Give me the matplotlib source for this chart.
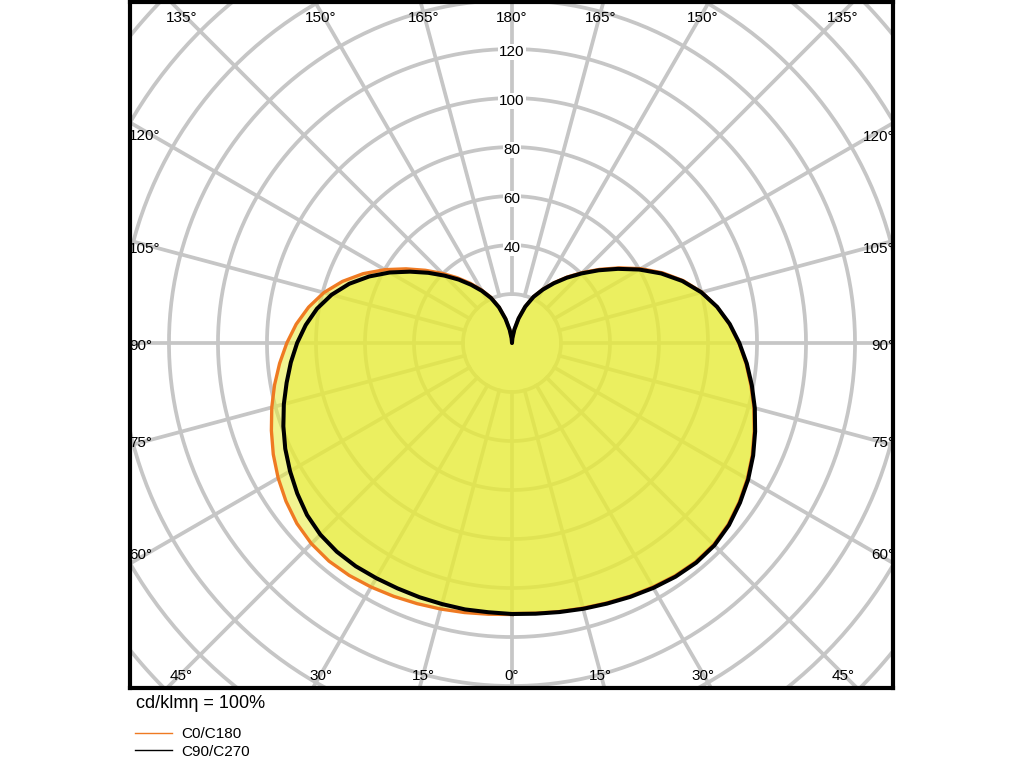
import numpy as np
import matplotlib
matplotlib.use('Agg')
import matplotlib.pyplot as plt
from matplotlib.lines import Line2D

plt.rcParams['font.family'] = ['Liberation Sans', 'DejaVu Sans']

# luminous intensity (cd/klm) against gamma angle, one list per C-plane
gamma = np.arange(0, 181, 5)
c0 = [110.4, 110.7, 111.3, 112.0, 112.9, 114.0, 115.0, 116.0, 116.6, 116.4, 115.2, 113.2,
      110.9, 108.2, 105.2, 102.2, 99.0, 95.9, 92.6, 89.1, 85.0, 80.2, 74.4, 67.8, 60.7,
      53.5, 46.8, 40.7, 35.2, 30.1, 25.4, 20.9, 15.8, 10.4, 5.6, 2.0, 0.0]
c180 = [110.8, 111.1, 111.7, 112.4, 113.2, 114.1, 115.0, 115.8, 116.2, 115.8, 114.6, 112.6,
        110.2, 107.5, 104.5, 101.5, 98.4, 95.2, 91.9, 88.4, 84.3, 79.5, 73.6, 67.0, 59.9,
        52.8, 46.2, 40.2, 34.8, 29.8, 25.1, 20.7, 15.7, 10.3, 5.6, 2.0, 0.0]
c90 = [110.6, 110.9, 111.5, 112.3, 113.2, 114.3, 115.4, 116.4, 117.0, 116.8, 115.6, 113.6,
       111.3, 108.6, 105.6, 102.6, 99.4, 96.2, 92.8, 89.2, 85.0, 80.0, 74.0, 67.2, 60.0,
       52.8, 46.2, 40.2, 34.8, 29.8, 25.2, 20.8, 15.8, 10.4, 5.6, 2.0, 0.0]
c270 = [110.6, 110.3, 110.4, 110.3, 110.4, 110.5, 110.8, 111.2, 111.2, 110.6, 109.2, 107.0,
        104.6, 102.1, 99.3, 96.4, 93.4, 90.6, 87.7, 84.5, 80.8, 76.2, 70.7, 64.3, 57.6,
        50.8, 44.6, 38.9, 33.8, 29.0, 24.6, 20.3, 15.5, 10.2, 5.5, 2.0, 0.0]

rings = [20, 40, 60, 80, 100, 120, 140, 160, 180, 200, 220]
ring_labels = [40, 60, 80, 100, 120]
spokes = np.arange(0, 360, 15)
top_angles = [135, 150, 165, 180, 165, 150, 135]
side_angles = [120, 105, 90, 75, 60]
bottom_angles = [45, 30, 15, 0, 15, 30, 45]

XMIN, XMAX, YMIN, YMAX = -155.9, 155.5, -140.8, 139.2
grid_col = '#c6c6c6'
fill_col = '#e7ec38'
orange = '#ef7a22'


def to_xy(g, r, side):
    g = np.radians(g)
    r = np.asarray(r)
    return side * r * np.sin(g), -r * np.cos(g)


fig = plt.figure(figsize=(10.24, 7.68), dpi=100)
ax = fig.add_axes([130 / 1024, 80 / 768, 763 / 1024, 686 / 768])
ax.set_xlim(XMIN, XMAX)
ax.set_ylim(YMIN, YMAX)
ax.set_xticks([])
ax.set_yticks([])
for s in ax.spines.values():
    s.set_linewidth(3)

# polar grid
t = np.linspace(0, 2 * np.pi, 400)
for r in rings:
    ax.plot(r * np.cos(t), r * np.sin(t), color=grid_col, lw=2.7, zorder=1)
for a in spokes:
    xa, ya = to_xy(a, [20, 260], 1)
    ax.plot(xa, ya, color=grid_col, lw=2.7, zorder=1)

for r in ring_labels:
    ax.text(0, r - 1.2, str(r), ha='center', va='center', fontsize=11, zorder=2.2,
            bbox=dict(boxstyle='square,pad=0.05', fc='white', ec='none'))


# curves
def outline(right, left):
    xr, yr = to_xy(gamma, right, 1)
    xl, yl = to_xy(gamma[::-1], left[::-1], -1)
    return np.concatenate([xr, xl]), np.concatenate([yr, yl])


xo, yo = outline(c0, c180)
xb, yb = outline(c90, c270)
ax.fill(xo, yo, color=fill_col, alpha=0.55, lw=0, zorder=1.5)
ax.fill(xb, yb, color=fill_col, alpha=0.55, lw=0, zorder=1.5)
ax.plot(xo, yo, color=orange, lw=2.4, zorder=1.8, solid_joinstyle='round')
ax.plot(xb, yb, color='black', lw=2.9, zorder=1.9, solid_joinstyle='round')

# angle labels along the frame
lab = dict(fontsize=11, zorder=2.3, va='center')
for i, a in enumerate(top_angles):
    sign = -1 if i < 3 else (1 if i > 3 else 0)
    x = sign * YMAX * np.tan(np.radians(180 - a)) * 0.97
    ax.text(x, 132.7, f'{a}°', ha='center', **lab)
for i, a in enumerate(bottom_angles):
    sign = -1 if i < 3 else (1 if i > 3 else 0)
    x = sign * (-YMIN) * np.tan(np.radians(a)) * 0.96
    ax.text(x, -135.9, f'{a}°', ha='center', **lab)
for a in side_angles:
    y = -(-XMIN) / np.tan(np.radians(a)) if a != 90 else 0.0
    ax.text(XMIN - 0.4, y * 0.95 - 1.2, f'{a}°', ha='left', **lab)
    y = -XMAX / np.tan(np.radians(a)) if a != 90 else 0.0
    ax.text(XMAX + 0.6, y * 0.95 - 1.2, f'{a}°', ha='right', **lab)

fig.text(136 / 1024, 1 - 703 / 768, 'cd/klmη = 100%', fontsize=13, va='center')
handles = [Line2D([], [], color=orange, lw=1), Line2D([], [], color='black', lw=1)]
fig.legend(handles, ['C0/C180', 'C90/C270'], loc='upper left',
           bbox_to_anchor=(135 / 1024, 1 - 727 / 768), frameon=False, fontsize=11,
           borderaxespad=0, borderpad=0, handlelength=2.4, handletextpad=0.65,
           labelspacing=0.25)

fig.savefig('out.png', dpi=100)
